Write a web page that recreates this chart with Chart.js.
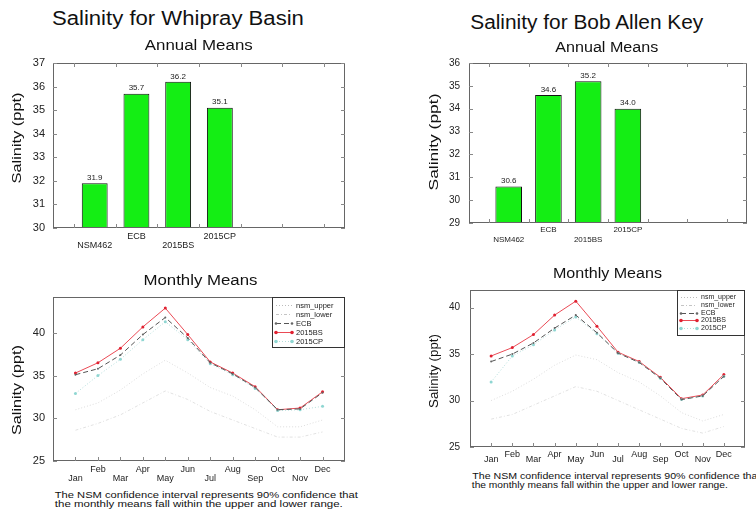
<!DOCTYPE html>
<html><head><meta charset="utf-8">
<script src="https://cdn.jsdelivr.net/npm/chart.js@4/dist/chart.umd.min.js"></script>
<style>
html,body{margin:0;padding:0;background:#fff;width:756px;height:517px;overflow:hidden;position:relative}
canvas{position:absolute}
.t{position:absolute;white-space:nowrap;line-height:1;color:#111;font-family:"Liberation Sans",Arial,sans-serif;z-index:5}
</style></head>
<body>
<canvas id="barW"></canvas>
<canvas id="barB"></canvas>
<canvas id="monW"></canvas>
<canvas id="monB"></canvas>
<script>
// ---------- DATA ----------
const annualCategories = ['NSM462', 'ECB', '2015BS', '2015CP'];
const annualWhipray = [31.9, 35.7, 36.2, 35.1];
const annualBobAllen = [30.6, 34.6, 35.2, 34.0];

const months = ['Jan','Feb','Mar','Apr','May','Jun','Jul','Aug','Sep','Oct','Nov','Dec'];
const seriesNames = ['nsm_upper', 'nsm_lower', 'ECB', '2015BS', '2015CP'];

const whiprayNsmUpper = [31.0, 31.8, 33.3, 35.2, 36.8, 35.3, 33.6, 32.6, 31.0, 29.0, 29.0, 29.8];
const whiprayNsmLower = [28.6, 29.4, 30.4, 31.8, 33.2, 32.2, 30.8, 29.8, 28.8, 27.8, 27.8, 28.4];
const whiprayECB      = [35.1, 35.8, 37.4, 39.8, 41.8, 39.4, 36.5, 35.2, 33.6, 31.0, 31.1, 33.0];
const whipray2015BS   = [35.3, 36.5, 38.2, 40.7, 42.9, 39.8, 36.6, 35.3, 33.7, 31.0, 31.2, 33.1];
const whipray2015CP   = [32.9, 35.0, 36.9, 39.2, 41.3, 39.2, 36.4, 35.1, 33.5, 30.9, 31.0, 31.4];

const bobNsmUpper = [30.0, 31.0, 32.3, 33.8, 34.9, 34.4, 33.0, 32.0, 30.5, 28.7, 27.8, 28.5];
const bobNsmLower = [28.0, 28.5, 29.5, 30.5, 31.5, 31.0, 30.0, 29.0, 28.0, 27.0, 26.5, 27.2];
const bobECB      = [34.2, 35.0, 36.2, 37.8, 39.2, 37.3, 35.1, 34.1, 32.4, 30.1, 30.5, 32.6];
const bob2015BS   = [34.8, 35.7, 37.1, 39.2, 40.7, 38.0, 35.2, 34.2, 32.5, 30.2, 30.6, 32.8];
const bob2015CP   = [32.0, 34.8, 36.0, 37.6, 39.0, 37.2, 35.1, 34.1, 32.4, 30.1, 30.5, 32.6];

// ---------- SETUP ----------
const FONT = '"Liberation Sans", Arial, sans-serif';
Chart.defaults.font.family = FONT;
Chart.defaults.color = '#222';

const decor = {
  id: 'decor',
  afterDraw(chart, args, o) {
    const {ctx, chartArea: a, scales} = chart;
    ctx.save();
    ctx.strokeStyle = o.frameColor || '#666';
    ctx.lineWidth = 1;
    ctx.strokeRect(Math.round(a.left) + 0.5, Math.round(a.top) + 0.5,
      Math.round(a.right - a.left) - 1, Math.round(a.bottom - a.top) - 1);
    ctx.strokeStyle = '#888';
    ctx.beginPath();
    (o.xTicks || []).forEach(v => {
      const px = Math.round(scales.x.getPixelForValue(v)) + 0.5;
      ctx.moveTo(px, a.bottom); ctx.lineTo(px, a.bottom - 4);
      if (o.topTicks) { ctx.moveTo(px, a.top); ctx.lineTo(px, a.top + 4); }
    });
    (o.yTicks || []).forEach(v => {
      const py = Math.round(scales.y.getPixelForValue(v)) + 0.5;
      ctx.moveTo(a.left, py); ctx.lineTo(a.left + 4, py);
      ctx.moveTo(a.right, py); ctx.lineTo(a.right - 4, py);
    });
    ctx.stroke();

    if (o.valueLabels) {
      ctx.font = '8px ' + FONT;
      ctx.fillStyle = '#222';
      ctx.textAlign = 'center';
      ctx.textBaseline = 'bottom';
      const meta = chart.getDatasetMeta(0);
      meta.data.forEach((el, i) => {
        const v = chart.data.datasets[0].data[i].y;
        ctx.fillText(v.toFixed(1), el.x, el.y - 1.5);
      });
    }

    if (o.legend) {
      const L = o.legend;
      const x0 = a.right - L.w, y0 = a.top;
      ctx.fillStyle = '#fff';
      ctx.fillRect(x0, y0, L.w, L.h);
      ctx.strokeStyle = '#333';
      ctx.strokeRect(Math.round(x0) + 0.5, Math.round(y0) + 0.5, L.w - 1, L.h - 1);
      ctx.font = L.size + 'px ' + FONT;
      ctx.textAlign = 'left';
      ctx.textBaseline = 'middle';
      chart.data.datasets.forEach((ds, i) => {
        const yy = Math.round(y0 + L.first + i * L.row) + 0.5;
        const xa = x0 + 4, xb = x0 + 4 + L.sample;
        ctx.save();
        ctx.strokeStyle = ds.legendColor || ds.borderColor;
        ctx.lineWidth = ds.borderWidth || 1;
        ctx.setLineDash(ds.borderDash || []);
        ctx.beginPath(); ctx.moveTo(xa, yy); ctx.lineTo(xb, yy); ctx.stroke();
        ctx.setLineDash([]);
        if (ds.pointRadius > 0) {
          ctx.fillStyle = ds.pointBackgroundColor || ds.borderColor;
          [xa, xb].forEach(px => { ctx.beginPath(); ctx.arc(px, yy, ds.pointRadius + 0.3, 0, Math.PI * 2); ctx.fill(); });
        }
        ctx.restore();
        ctx.fillStyle = '#222';
        ctx.fillText(ds.label, xb + 4, yy);
      });
    }
    ctx.restore();
  }
};

function place(id, r) {
  const c = document.getElementById(id);
  c.width = r.w; c.height = r.h;
  c.style.left = r.left + 'px'; c.style.top = r.top + 'px';
  c.style.width = r.w + 'px'; c.style.height = r.h + 'px';
  return c;
}

function barChart(id, r, cats, vals, yMin, yMax, o) {
  const c = place(id, r);
  return new Chart(c, {
    type: 'bar',
    data: { datasets: [{
      data: vals.map((v, i) => ({x: i + 1, y: v})),
      backgroundColor: '#14ee14', borderColor: '#111', borderWidth: 1,
      borderSkipped: false, barPercentage: o.barPct, categoryPercentage: 1
    }]},
    plugins: [decor],
    options: {
      responsive: false, animation: false, devicePixelRatio: 1, events: [],
      layout: { padding: { left: 0, top: r.padT, right: r.padR, bottom: 0 } },
      plugins: { legend: {display: false}, tooltip: {enabled: false},
        decor: { xTicks: [0.5,1.5,2.5,3.5,4.5,5.5,6.5], topTicks: true,
          yTicks: Array.from({length: yMax - yMin + 1}, (_, k) => yMin + k),
          valueLabels: true } },
      scales: {
        x: { type: 'linear', min: 0, max: 7, offset: false,
          grid: {display: false, drawTicks: false, offset: false}, border: {display: false},
          afterFit: s => { s.height = r.xH; },
          ticks: { stepSize: 1, autoSkip: false, maxRotation: 0, padding: o.xPad,
            font: {size: o.xSize, lineHeight: o.xLH}, color: '#222',
            callback: v => {
              const i = v - 1;
              if (i < 0 || i >= cats.length) return '';
              return i % 2 === 0 ? ['', cats[i]] : [cats[i]];
            } } },
        y: { min: yMin, max: yMax,
          grid: {display: false, drawTicks: false}, border: {display: false},
          afterFit: s => { s.width = r.yW; },
          ticks: { stepSize: 1, padding: o.yPad, font: {size: o.ySize, lineHeight: 1}, color: '#222' } }
      }
    }
  });
}

function lineChart(id, r, series, yMax, o) {
  const c = place(id, r);
  const styles = [
    {borderColor: '#dcdcdc', legendColor: '#bbb', borderDash: [1, 2], pointRadius: 0, order: 4},
    {borderColor: '#e2e2e2', legendColor: '#c4c4c4', borderDash: [3, 2, 1, 2], pointRadius: 0, order: 3},
    {borderColor: '#555', borderDash: [5, 3], pointRadius: 1, pointBackgroundColor: '#666', order: 0},
    {borderColor: '#ea4a55', borderDash: [], pointRadius: 1.5, pointBackgroundColor: '#e02030', order: 2},
    {borderColor: '#b4dedb', borderDash: [1, 2], pointRadius: 1.5, pointBackgroundColor: '#8fd6d2', order: 1}
  ];
  return new Chart(c, {
    type: 'line',
    data: { datasets: series.map((vals, k) => Object.assign({
      label: seriesNames[k],
      data: vals.map((v, i) => ({x: i + 1, y: v})),
      borderWidth: 1, tension: 0, fill: false, pointBorderWidth: 0
    }, styles[k])) },
    plugins: [decor],
    options: {
      responsive: false, animation: false, devicePixelRatio: 1, events: [],
      layout: { padding: { left: 0, top: r.padT, right: r.padR, bottom: 0 } },
      plugins: { legend: {display: false}, tooltip: {enabled: false},
        decor: { xTicks: [1,2,3,4,5,6,7,8,9,10,11,12], topTicks: false,
          yTicks: [25, 30, 35, 40], legend: o.legend } },
      scales: {
        x: { type: 'linear', min: 0, max: 13,
          grid: {display: false, drawTicks: false}, border: {display: false},
          afterFit: s => { s.height = r.xH; },
          ticks: { stepSize: 1, autoSkip: false, maxRotation: 0, padding: o.xPad,
            font: {size: 9, lineHeight: o.xLH}, color: '#222',
            callback: v => {
              const i = v - 1;
              if (i < 0 || i > 11) return '';
              return i % 2 === 0 ? ['', months[i]] : [months[i]];
            } } },
        y: { min: 25, max: yMax,
          grid: {display: false, drawTicks: false}, border: {display: false},
          afterFit: s => { s.width = r.yW; },
          ticks: { stepSize: 5, includeBounds: false, padding: o.yPad,
            font: {size: o.ySize, lineHeight: 1}, color: '#222',
            callback: v => (v % 5 === 0 ? String(v) : '') } }
      }
    }
  });
}

barChart('barW', {left: 10, top: 43, w: 343, h: 215, yW: 43, xH: 30, padT: 20, padR: 8},
  annualCategories, annualWhipray, 30, 37,
  {barPct: 0.62, xPad: 3.5, xSize: 9, xLH: 1.05, yPad: 8, ySize: 11});

barChart('barB', {left: 425, top: 43, w: 330, h: 210, yW: 44, xH: 30, padT: 20, padR: 8},
  annualCategories, annualBobAllen, 29, 36,
  {barPct: 0.67, xPad: 2.2, xSize: 8, xLH: 1.2, yPad: 9, ySize: 10});

lineChart('monW', {left: 10, top: 277, w: 343, h: 210, yW: 43, xH: 26, padT: 20, padR: 8},
  [whiprayNsmUpper, whiprayNsmLower, whiprayECB, whipray2015BS, whipray2015CP], 44.2,
  {xPad: 4.5, xLH: 1.0, yPad: 8, ySize: 11,
   legend: {w: 73, h: 51, first: 8, row: 9, sample: 16, size: 7.5}});

lineChart('monB', {left: 425, top: 270, w: 328, h: 199, yW: 45, xH: 22, padT: 20, padR: 8},
  [bobNsmUpper, bobNsmLower, bobECB, bob2015BS, bob2015CP], 41.9,
  {xPad: 5.5, xLH: 0.5, yPad: 10, ySize: 10,
   legend: {w: 68, h: 46, first: 7, row: 7.8, sample: 16, size: 7}});

// ---------- TEXT ----------
const texts = [
  {t: 'Salinity for Whipray Basin', cx: 177.5, cy: 17.5, size: 20, w: 252},
  {t: 'Annual Means', cx: 199, cy: 45, size: 14, w: 108},
  {t: 'Salinity for Bob Allen Key', cx: 586.5, cy: 21.5, size: 20, w: 233},
  {t: 'Annual Means', cx: 606.5, cy: 47, size: 14, w: 103},
  {t: 'Monthly Means', cx: 200, cy: 279.5, size: 14, w: 114},
  {t: 'Monthly Means', cx: 607.5, cy: 273, size: 14, w: 109},
  {t: 'Salinity (ppt)', cx: 17.5, cy: 137.5, size: 12, w: 91, rot: true},
  {t: 'Salinity (ppt)', cx: 17.5, cy: 390, size: 12, w: 90, rot: true},
  {t: 'Salinity (ppt)', cx: 434, cy: 141.5, size: 12, w: 97, rot: true},
  {t: 'Salinity (ppt)', cx: 434, cy: 371, size: 12, w: 74, rot: true},
  {t: 'The NSM confidence interval represents 90% confidence that', left: 55, cy: 495, size: 9, w: 303},
  {t: 'the monthly means fall within the upper and lower range.', left: 55, cy: 504, size: 9, w: 288},
  {t: 'The NSM confidence interval represents 90% confidence that', left: 472, cy: 476, size: 9, w: 288},
  {t: 'the monthly means fall within the upper and lower range.', left: 472, cy: 485, size: 9, w: 256}
];
texts.forEach(o => {
  const d = document.createElement('div');
  d.className = 't';
  d.textContent = o.t;
  d.style.fontSize = o.size + 'px';
  document.body.appendChild(d);
  const nat = d.getBoundingClientRect().width;
  const h = d.getBoundingClientRect().height;
  const s = o.w / nat;
  const cx = o.left !== undefined ? o.left + o.w / 2 : o.cx;
  d.style.left = (cx - nat / 2) + 'px';
  d.style.top = (o.cy - h / 2) + 'px';
  d.style.transformOrigin = '50% 50%';
  d.style.transform = (o.rot ? 'rotate(-90deg) ' : '') + 'scaleX(' + s.toFixed(4) + ')';
});
</script>
</body></html>
